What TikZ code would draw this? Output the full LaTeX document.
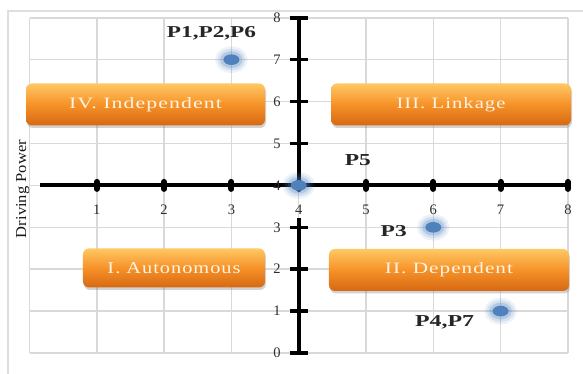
\documentclass[tikz,border=0pt]{standalone}
\usepackage{fontspec}
\setmainfont{Liberation Serif}
\usetikzlibrary{shadows,shapes.geometric}
\definecolor{gridc}{RGB}{217,217,217}
\definecolor{framec}{RGB}{222,222,222}
\definecolor{dotc}{RGB}{79,129,189}
\definecolor{otop}{RGB}{255,200,100}
\definecolor{omid}{RGB}{246,146,40}
\definecolor{obot}{RGB}{214,104,18}
\definecolor{tickc}{RGB}{45,45,45}
\definecolor{btext}{RGB}{255,244,228}
\newcommand\boxtxt[2]{\resizebox{#1}{11pt}{\addfontfeature{LetterSpace=5}#2}}
\newcommand\ptxt[2]{\resizebox{#1}{11pt}{#2}}
\begin{document}
\begin{tikzpicture}[
  gridline/.style={draw=gridc, line width=1.5pt},
  framel/.style={draw=framec, line width=1.5pt},
  axisline/.style={draw=black, line width=4pt},
  vtick/.style={draw=black, line width=3.5pt},
  htick/.style={draw=black, line width=6pt, line cap=round},
  ticklab/.style={font=\fontsize{14.5}{14.5}\selectfont, text=tickc, inner sep=0pt},
  obox/.style={rounded corners=6pt, top color=otop, bottom color=obot, middle color=omid,
     drop shadow={shadow xshift=1pt, shadow yshift=-2.5pt, opacity=0.35},
     text=btext, inner sep=0pt},
  pdot/.style={ellipse, fill=dotc, minimum width=16pt, minimum height=10.6pt, inner sep=0pt,
     preaction={draw=dotc, draw opacity=0.1, line width=16pt},
     preaction={draw=dotc, draw opacity=0.15, line width=11pt},
     preaction={draw=dotc, draw opacity=0.25, line width=6pt}},
  plabel/.style={font=\bfseries, text=black!85, inner sep=0pt, anchor=base},
  ytitle/.style={rotate=90, anchor=base, inner sep=0pt, text=black!90}
]
\useasboundingbox (0,0) rectangle (583pt,374pt);
\fill[white] (0,0) rectangle (583pt,374pt);
\draw[framel] (8pt,0pt) -- (8pt,363pt) -- (583pt,363pt);
\begin{scope}[shift={(29.5pt,21pt)}, x=67.3pt, y=41.9pt]
  % grid
  \foreach \i in {0,...,8} {
    \draw[gridline] (\i,0) -- (\i,8);
    \draw[gridline] (0,\i) -- (8,\i);
  }
  % axes
  \coordinate (vt) at ([yshift=1pt]4,8);
  \coordinate (vm) at (4,4);
  \coordinate (vb1) at (4,3.22);
  \coordinate (vb2) at ([yshift=-2pt]4,0);
  \coordinate (hl) at (0.156,4);
  \coordinate (hr) at ([xshift=1pt]8,4);
  \draw[axisline] (vt) -- (vm);
  \draw[axisline] (vb1) -- (vb2);
  \draw[axisline] (hl) -- (hr);
  \foreach \k in {0,1,2,3,5,6,7,8} {
    \draw[vtick] ([xshift=-9pt]4,\k) -- ([xshift=9pt]4,\k);
  }
  \foreach \k in {1,...,8} {
    \draw[htick] ([yshift=-3.5pt]\k,4) -- ([yshift=3.5pt]\k,4);
  }
  % tick labels
  \foreach \k in {1,...,8} {
    \node[ticklab] (xl\k) at (\k,3.41) {\k};
  }
  \foreach \k in {0,...,8} {
    \node[ticklab] (yl\k) at (3.678,\k) {\k};
  }
  % axis title
  \node[ytitle] (yt) at (-0.052,3.914) {\resizebox{98pt}{10pt}{Driving Power}};
  % quadrant boxes
  \node[obox, minimum width=239pt, minimum height=42pt] (q4) at (1.724,5.931) {\boxtxt{153pt}{IV. Independent}};
  \node[obox, minimum width=240pt, minimum height=42pt] (q3) at (6.263,5.931) {\boxtxt{109pt}{III. Linkage}};
  \node[obox, minimum width=182pt, minimum height=39pt] (q1) at (2.147,2.029) {\boxtxt{133pt}{I. Autonomous}};
  \node[obox, minimum width=240pt, minimum height=42pt] (q2) at (6.233,1.981) {\boxtxt{128pt}{II. Dependent}};
  % points
  \node[pdot] (d1) at (3,7) {};
  \node[pdot] (d5) at (4,4) {};
  \node[pdot] (d3) at (6,3) {};
  \node[pdot] (d4) at (7,1) {};
  % point labels
  \node[plabel] (l1) at (2.704,7.518) {\ptxt{89pt}{P1,P2,P6}};
  \node[plabel] (l5) at (4.878,4.463) {\ptxt{26pt}{P5}};
  \node[plabel] (l3) at (5.412,2.792) {\ptxt{26pt}{P3}};
  \node[plabel] (l4) at (6.167,0.621) {\ptxt{59pt}{P4,P7}};
\end{scope}
\end{tikzpicture}
\end{document}
